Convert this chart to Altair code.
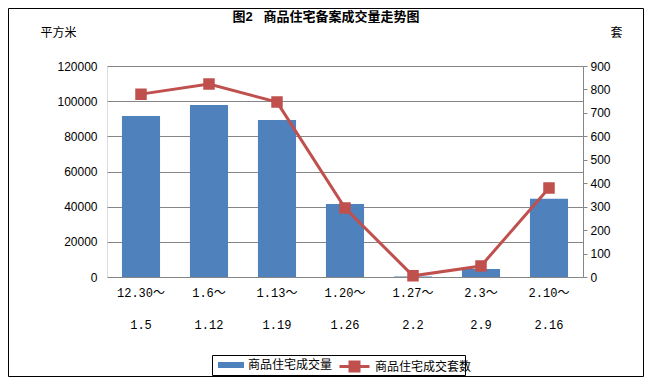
import altair as alt
import pandas as pd

period_start = ["12.30～", "1.6～", "1.13～", "1.20～", "1.27～", "2.3～", "2.10～"]
period_end = ["1.5", "1.12", "1.19", "1.26", "2.2", "2.9", "2.16"]
area_sqm = [91500, 97800, 89300, 41500, 300, 4500, 44500]
units_sold = [780, 823, 746, 294, 5, 47, 380]
series_names = ["商品住宅成交量", "商品住宅成交套数"]

df = pd.DataFrame({
    "period": [a + "|" + b for a, b in zip(period_start, period_end)],
    "area": area_sqm,
    "units": units_sold,
})

BLUE = "#4F81BD"
RED = "#C0504D"
GRID = "#868686"
FONT = "Liberation Sans, Noto Sans CJK SC"
XFONT = "Liberation Mono, Noto Sans CJK SC"

x = alt.X(
    "period:N", sort=None, title=None,
    scale=alt.Scale(paddingInner=0.44, paddingOuter=0.22),
    axis=alt.Axis(labelExpr="split(datum.label, '|')", labelAngle=0, domain=False,
                  ticks=False, labelFont=XFONT, labelFontSize=12, labelColor="black",
                  labelBaseline="top", labelPadding=10, labelLineHeight=32),
)

bars = alt.Chart(df).transform_calculate(s1="'商品住宅成交量'").mark_bar().encode(
    x=x,
    y=alt.Y("area:Q", scale=alt.Scale(domain=[0, 120000], nice=False),
            axis=alt.Axis(values=list(range(0, 120001, 20000)), format="d", domain=False,
                          ticks=False, grid=True, gridColor=GRID, gridWidth=1,
                          labelFont=FONT, labelFontSize=12, labelColor="black",
                          labelPadding=10, title="平方米", titleAngle=0, titleX=-67,
                          titleY=-34, titleAlign="left", titleBaseline="middle",
                          titleFont=FONT, titleFontSize=12, titleFontWeight="normal")),
    fill=alt.Fill("s1:N", scale=alt.Scale(domain=[series_names[0]], range=[BLUE]),
                  legend=alt.Legend(title=None, orient="none", legendX=111, legendY=286,
                                    symbolType="M-1,-0.23H1V0.23H-1Z", symbolSize=676,
                                    symbolStrokeWidth=0, labelFont=FONT, labelFontSize=12,
                                    labelColor="black", padding=0, symbolOffset=0)),
)

line = alt.Chart(df).transform_calculate(s2="'商品住宅成交套数'").mark_line(
    strokeWidth=3, color=RED,
    point=alt.OverlayMarkDef(shape="square", size=90, filled=True, color=RED),
).encode(
    x=x,
    y=alt.Y("units:Q", scale=alt.Scale(domain=[0, 900], nice=False),
            axis=alt.Axis(orient="right", values=list(range(0, 901, 100)), format="d",
                          domain=True, domainColor=GRID, ticks=True, tickColor=GRID,
                          tickSize=4, grid=False, labelFont=FONT, labelFontSize=12,
                          labelColor="black", labelPadding=3, title="套", titleAngle=0,
                          titleX=33, titleY=-34, titleAlign="center",
                          titleBaseline="middle", titleFont=FONT, titleFontSize=12,
                          titleFontWeight="normal")),
    stroke=alt.Stroke("s2:N", scale=alt.Scale(domain=[series_names[1]], range=[RED]),
                      legend=alt.Legend(title=None, orient="none", legendX=231, legendY=284,
                                        symbolType="M-1,0H1M-0.3,-0.3H0.3V0.3H-0.3Z",
                                        symbolSize=900, symbolStrokeWidth=3,
                                        symbolFillColor=RED, symbolStrokeColor=RED,
                                        labelFont=FONT, labelFontSize=12, labelColor="black",
                                        padding=0)),
)

one = pd.DataFrame({"k": [0]})
frame = alt.Chart(one).mark_rect(fillOpacity=0, stroke="black", strokeWidth=1).encode(
    x=alt.value(-98.5), x2=alt.value(536.5), y=alt.value(-57.5), y2=alt.value(310.5))
legend_box = alt.Chart(one).mark_rect(fillOpacity=0, stroke="black", strokeWidth=1).encode(
    x=alt.value(105.5), x2=alt.value(358.5), y=alt.value(289.5), y2=alt.value(309.5))

chart = alt.layer(frame, bars, line, legend_box).resolve_scale(
    y="independent", fill="independent", stroke="independent"
).properties(
    width=476, height=211,
    autosize=alt.AutoSizeParams(type="none"),
    padding={"left": 99, "top": 58, "right": 61, "bottom": 100},
    title=alt.Title("图2\u00a0\u00a0\u00a0商品住宅备案成交量走势图", font=FONT, fontSize=13,
                    fontWeight="bold", anchor="middle", dx=-19, dy=20, offset=4,
                    color="black"),
).configure_view(stroke=None).configure(background="white")

chart.save("out.html", embed_options={"renderer": "svg", "actions": False})
